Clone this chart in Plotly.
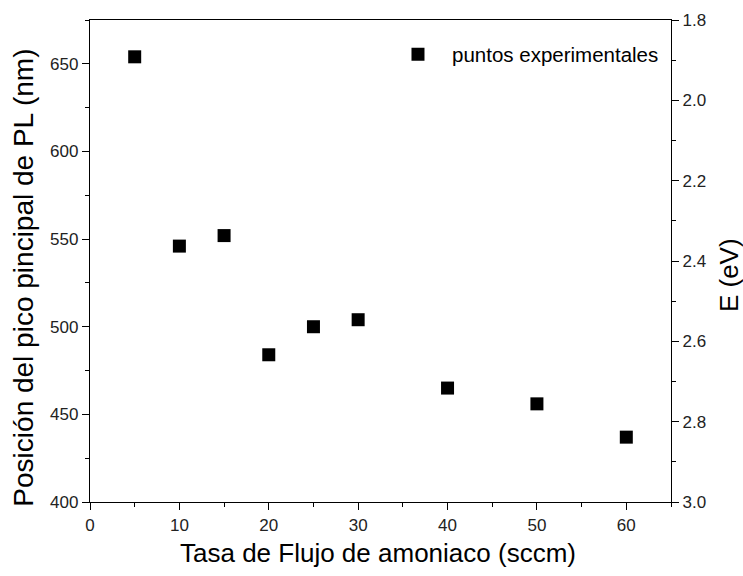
import plotly.graph_objects as go

# Ammonia flow rate (sccm) and main PL peak position (nm)
flujo = [5, 10, 15, 20, 25, 30, 40, 50, 60]
pico_nm = [654, 546, 552, 484, 500, 504, 465, 456, 437]

x_ticks = [0, 10, 20, 30, 40, 50, 60]
y_ticks = [400, 450, 500, 550, 600, 650]
e_ticks = [1.8, 2.0, 2.2, 2.4, 2.6, 2.8, 3.0]

FONT = "Liberation Sans, Arial, sans-serif"

fig = go.Figure()
fig.add_trace(go.Scatter(
    x=flujo, y=pico_nm, mode="markers",
    name="puntos experimentales",
    marker=dict(symbol="square", size=13, color="black"),
))
# empty trace so the energy axis on the right is drawn
fig.add_trace(go.Scatter(x=[], y=[], yaxis="y2", showlegend=False, hoverinfo="skip"))

axis_common = dict(
    showline=True, linecolor="black", linewidth=1.3,
    ticks="outside", ticklen=7, tickwidth=1.3, tickcolor="black",
    showgrid=False, zeroline=False,
    tickfont=dict(family=FONT, size=17, color="#222"),
)
minor_common = dict(ticklen=4, tickwidth=1.3, tickcolor="black", ticks="outside")

fig.update_layout(
    width=743, height=576,
    margin=dict(l=90, r=72, t=20, b=74),
    paper_bgcolor="white", plot_bgcolor="white",
    font=dict(family=FONT, color="black"),
    showlegend=True,
    legend=dict(
        x=0.506, y=0.97, xanchor="left", yanchor="top",
        itemwidth=58,
        bgcolor="rgba(0,0,0,0)", borderwidth=0,
        font=dict(family=FONT, size=20.5, color="black"),
    ),
    xaxis=dict(range=[0, 65], tickvals=x_ticks, mirror=True,
               minor=dict(dtick=5, **minor_common), **axis_common),
    yaxis=dict(range=[400, 675], tickvals=y_ticks,
               minor=dict(dtick=25, **minor_common), **axis_common),
    yaxis2=dict(
        overlaying="y", side="right", anchor="x",
        range=[3.0, 1.8], tickvals=e_ticks, ticktext=[f"{v:.1f}" for v in e_ticks],
        minor=dict(dtick=0.1, **minor_common), **axis_common,
    ),
    annotations=[
        dict(text="Tasa de Flujo de amoniaco (sccm)", xref="paper", yref="paper",
             x=0.495, y=-0.106, xanchor="center", yanchor="middle", showarrow=False,
             font=dict(family=FONT, size=26, color="black")),
        dict(text="Posición del pico pincipal de PL (nm)", xref="paper", yref="paper",
             x=-0.114, y=0.465, xanchor="center", yanchor="middle", showarrow=False,
             textangle=-90, font=dict(family=FONT, size=28, color="black")),
        dict(text="E (eV)", xref="paper", yref="paper",
             x=1.1, y=0.471, xanchor="center", yanchor="middle", showarrow=False,
             textangle=-90, font=dict(family=FONT, size=26, color="black")),
    ],
)

fig.write_html("out.html")
